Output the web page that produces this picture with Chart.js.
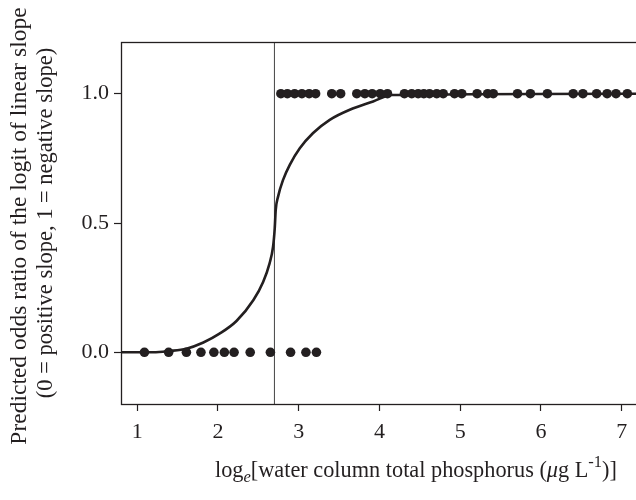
<!DOCTYPE html>
<html>
<head>
<meta charset="utf-8">
<script src="https://cdn.jsdelivr.net/npm/chart.js@4/dist/chart.umd.min.js"></script>
<style>
  html, body { margin: 0; background: #fff; overflow: hidden; }
  #caja { width: 641px; height: 500px; position: relative; }
</style>
</head>
<body>
<div id="caja"><canvas id="grafica"></canvas></div>
<script>
/********** Datos leidos de la figura *******************/
// lagos con pendiente negativa (y = 1)
const xNegativa = [2.78, 2.86, 2.95, 3.04, 3.13, 3.21, 3.41, 3.52, 3.72, 3.82, 3.91, 4.01,
  4.10, 4.31, 4.40, 4.48, 4.55, 4.62, 4.71, 4.79, 4.93, 5.02, 5.21, 5.34, 5.41, 5.71,
  5.87, 6.08, 6.40, 6.52, 6.69, 6.82, 6.93, 7.07];
// lagos con pendiente positiva (y = 0)
const xPositiva = [1.09, 1.39, 1.61, 1.79, 1.95, 2.08, 2.20, 2.40, 2.65, 2.90, 3.09, 3.22];
// curva logistica ajustada
const curvaX = [0.80, 1.20, 1.40, 1.61, 1.82, 2.02, 2.23, 2.44, 2.56, 2.64, 2.683, 2.704,
  2.716, 2.745, 2.807, 2.89, 3.014, 3.179, 3.385, 3.633, 3.922, 4.15, 7.18];
const curvaY = [0.00, 0.00, 0.005, 0.014, 0.038, 0.072, 0.121, 0.202, 0.272, 0.344, 0.408, 0.48,
  0.55, 0.602, 0.667, 0.725, 0.789, 0.848, 0.899, 0.938, 0.970, 0.995, 1.00];
const umbral = 2.70;
const rangoX = [0.80, 7.18];
const rangoY = [-0.2, 1.2];

const tituloY = ['Predicted odds ratio of the logit of linear slope',
  '(0 = positive slope, 1 = negative slope)'];
// titulo X por trozos (normal, subindice, superindice)
const tituloX = [
  { t: 'log', m: 'n' }, { t: 'e', m: 'sub', it: true },
  { t: '[water column total phosphorus (', m: 'n' }, { t: 'μ', m: 'n', it: true },
  { t: 'g L', m: 'n' }, { t: '-1', m: 'sup' }, { t: ')]', m: 'n' }
];

const negro = '#231f20';
const fuente = '"Liberation Serif", "DejaVu Serif", serif';

/********** Marco y titulos *******************/
const marco = {
  id: 'marco',
  afterDraw(chart) {
    const { ctx, chartArea: a } = chart;
    ctx.save();
    ctx.strokeStyle = negro;
    ctx.lineWidth = 1.3;
    ctx.strokeRect(a.left + 0.5, a.top + 0.5, a.right - a.left + 2, a.bottom - a.top);

    ctx.fillStyle = negro;
    // titulo eje y
    ctx.save();
    ctx.translate(0, (a.top + a.bottom) / 2);
    ctx.rotate(-Math.PI / 2);
    ctx.textAlign = 'center';
    ctx.textBaseline = 'middle';
    ctx.font = '23.5px ' + fuente;
    ctx.fillText(tituloY[0], -3, 20);
    ctx.font = '22.5px ' + fuente;
    ctx.fillText(tituloY[1], 0, 46);
    ctx.restore();

    // titulo eje x
    const tam = 22.3;
    const medir = (s) => {
      const f = (s.it ? 'italic ' : '') + (s.m === 'n' ? tam : tam * 0.74) + 'px ' + fuente;
      ctx.font = f;
      return { f, w: ctx.measureText(s.t).width };
    };
    const medidas = tituloX.map(medir);
    let x = 215;
    const base = 477;
    ctx.textAlign = 'left';
    ctx.textBaseline = 'alphabetic';
    tituloX.forEach((s, i) => {
      ctx.font = medidas[i].f;
      let y = base;
      if (s.m === 'sub') y = base + 5;
      if (s.m === 'sup') y = base - 10;
      ctx.fillText(s.t, x, y);
      x += medidas[i].w;
    });
    ctx.restore();
  }
};

/********** Grafica *******************/
const puntos = (xs, y) => xs.map(x => ({ x: x, y: y }));

new Chart(document.getElementById('grafica'), {
  type: 'scatter',
  data: {
    datasets: [
      {
        label: 'negativa',
        data: puntos(xNegativa, 1),
        pointRadius: 4.8,
        pointBackgroundColor: negro,
        pointBorderWidth: 0,
        order: 0
      },
      {
        label: 'positiva',
        data: puntos(xPositiva, 0),
        pointRadius: 4.8,
        pointBackgroundColor: negro,
        pointBorderWidth: 0,
        order: 0
      },
      {
        label: 'curva',
        data: curvaX.map((x, i) => ({ x: x, y: curvaY[i] })),
        showLine: true,
        pointRadius: 0,
        borderColor: negro,
        borderWidth: 2.6,
        cubicInterpolationMode: 'monotone',
        order: 1
      },
      {
        label: 'umbral',
        data: [{ x: umbral, y: rangoY[0] }, { x: umbral, y: rangoY[1] }],
        showLine: true,
        pointRadius: 0,
        borderColor: '#444',
        borderWidth: 1,
        order: 2
      }
    ]
  },
  options: {
    responsive: true,
    maintainAspectRatio: false,
    animation: false,
    layout: { padding: { top: 42, right: 0, bottom: 0, left: 0 } },
    plugins: { legend: { display: false }, tooltip: { enabled: false } },
    scales: {
      x: {
        type: 'linear',
        min: rangoX[0],
        max: rangoX[1],
        afterFit: (s) => { s.height = 96; s.paddingLeft = 0; s.paddingRight = 0; },
        border: { display: false },
        grid: { drawOnChartArea: false, tickLength: 7, color: negro, tickWidth: 1.2 },
        ticks: {
          stepSize: 1,
          includeBounds: false,
          padding: 8,
          color: negro,
          font: { family: fuente, size: 22 }
        }
      },
      y: {
        type: 'linear',
        min: rangoY[0],
        max: rangoY[1],
        afterFit: (s) => { s.width = 121; s.paddingTop = 0; s.paddingBottom = 0; },
        border: { display: false },
        grid: { drawOnChartArea: false, tickLength: 7, color: negro, tickWidth: 1.2 },
        ticks: {
          stepSize: 0.5,
          includeBounds: false,
          padding: 5,
          color: negro,
          font: { family: fuente, size: 22 },
          callback: (v) => v.toFixed(1)
        }
      }
    }
  },
  plugins: [marco]
});
</script>
</body>
</html>
